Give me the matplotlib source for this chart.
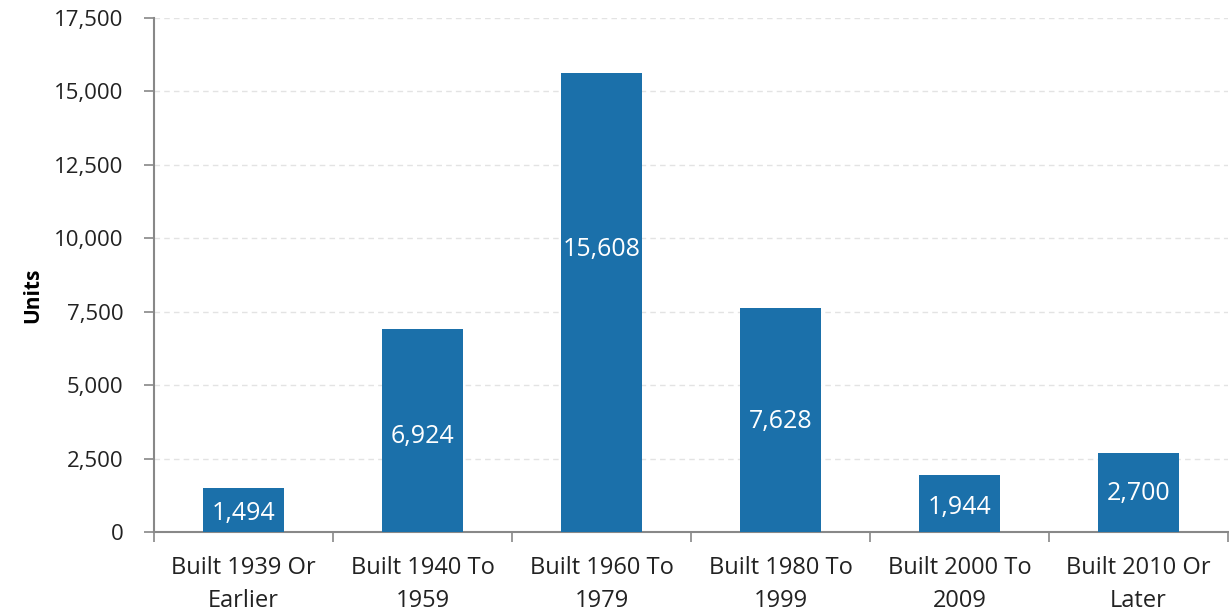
import numpy as np
import matplotlib.pyplot as plt
from matplotlib.ticker import FuncFormatter, FixedLocator

categories = ['Built 1939 Or\nEarlier', 'Built 1940 To\n1959', 'Built 1960 To\n1979',
              'Built 1980 To\n1999', 'Built 2000 To\n2009', 'Built 2010 Or\nLater']
units = [1494, 6924, 15608, 7628, 1944, 2700]

# where the value label sits, as a fraction of the bar height
label_frac = [0.41, 0.47, 0.615, 0.495, 0.42, 0.48]

plt.rcParams['font.family'] = ['Open Sans', 'DejaVu Sans']

fig = plt.figure(figsize=(12.29, 6.15), dpi=100)
ax = fig.add_axes([0.1253, 0.135, 0.874, 0.836])

x = np.arange(len(categories))
bars = ax.bar(x, units, width=0.45, color='#1b70aa', zorder=3)

for xi, v, f in zip(x, units, label_frac):
    ax.text(xi, v * f, '{:,}'.format(v), ha='center', va='center',
            color='white', fontsize=18, zorder=4)

ax.set_xlim(-0.5, len(categories) - 0.5)
ax.set_ylim(0, 17500)
ax.set_yticks(np.arange(0, 17501, 2500))
ax.yaxis.set_major_formatter(FuncFormatter(lambda v, p: '{:,}'.format(int(v))))
ax.grid(axis='y', color='#e3e3e3', linestyle=(0, (4, 3)), linewidth=1, zorder=0)

ax.set_xticks(x)
ax.set_xticklabels(categories, fontsize=17, color='#222222', linespacing=1.5)
ax.xaxis.set_minor_locator(FixedLocator(np.arange(-0.5, len(categories), 1)))
ax.tick_params(axis='x', which='major', length=0, pad=17)
ax.tick_params(axis='x', which='minor', length=7, color='#888888', width=1.2)
ax.tick_params(axis='y', length=7, color='#888888', width=1.2, labelsize=16,
               labelcolor='#222222', pad=15)

for s in ['top', 'right']:
    ax.spines[s].set_visible(False)
for s in ['left', 'bottom']:
    ax.spines[s].set_color('#888888')
    ax.spines[s].set_linewidth(1.5)

ax.set_ylabel('Units', fontsize=15, fontweight='bold')
ax.yaxis.set_label_coords(-0.103, 0.46)

fig.savefig('out.png', dpi=100)
